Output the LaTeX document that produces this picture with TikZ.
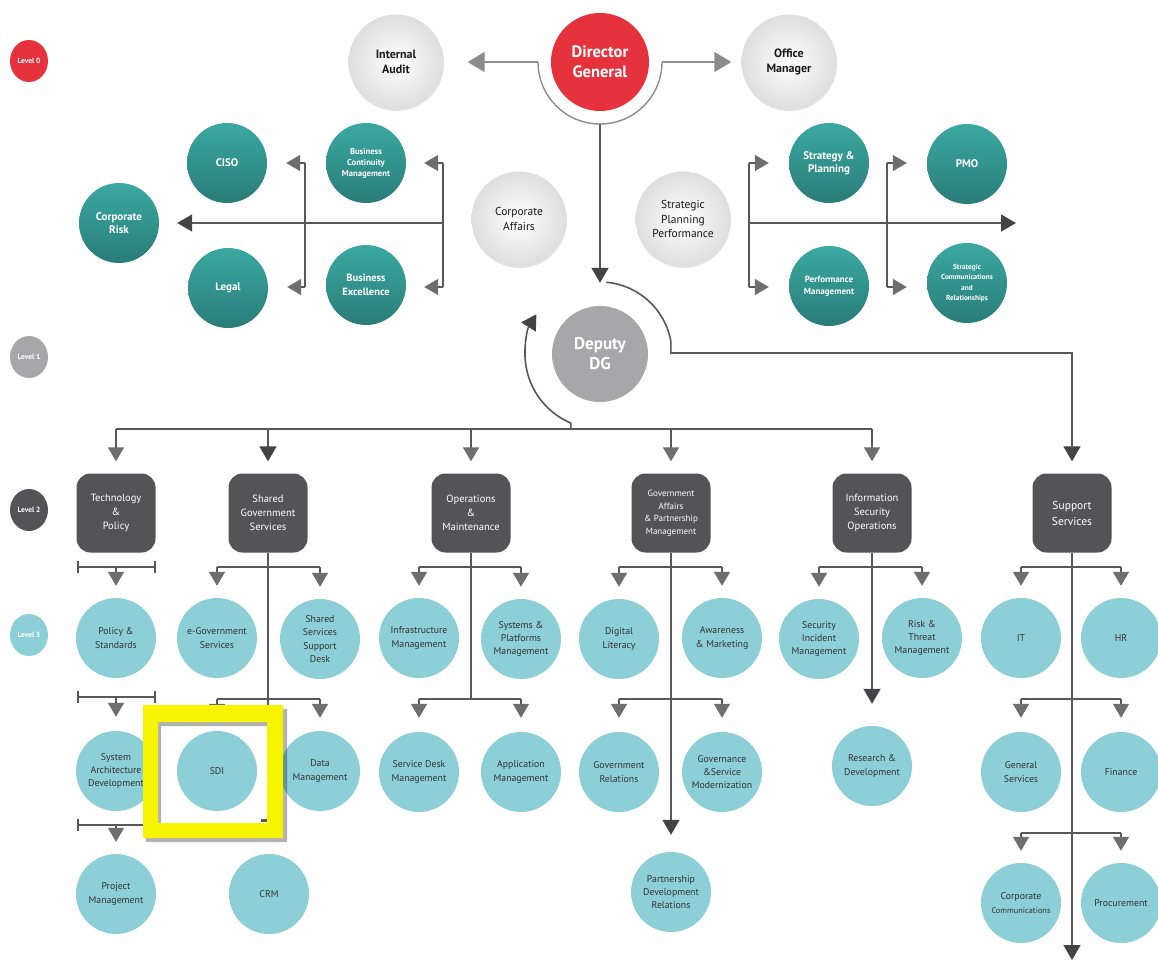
\documentclass[tikz,border=0pt]{standalone}
\usepackage{fontspec}
\setmainfont{PT Sans}
\usetikzlibrary{arrows.meta,shadows,calc,shapes.geometric}
\pgfdeclarelayer{background}
\pgfsetlayers{background,main}
\definecolor{tealTop}{HTML}{3AA9A1}
\definecolor{tealBot}{HTML}{2A7C78}
\definecolor{tealL}{HTML}{8CCFD6}
\definecolor{boxG}{HTML}{545456}
\definecolor{redDG}{HTML}{E5323D}
\definecolor{grayDDG}{HTML}{A7A7A9}
\definecolor{lineG}{HTML}{58585A}
\definecolor{arrG}{HTML}{6E6E70}
\definecolor{arrD}{HTML}{444446}
\definecolor{arcG}{HTML}{8C8C8E}
\definecolor{txtD}{HTML}{333335}
\definecolor{yel}{HTML}{F7F400}
\begin{document}
\begin{tikzpicture}[x=1pt,y=-1pt,
  every node/.style={inner sep=0pt, align=center},
  dteal/.style={circle, minimum size=80pt, top color=tealTop, bottom color=tealBot, text=white, font=\bfseries\fontsize{11}{13.5}\selectfont},
  lteal/.style={circle, minimum size=80pt, fill=tealL, text=txtD, font=\fontsize{9.8}{13.3}\selectfont},
  lgray/.style={circle, minimum size=95pt, inner color=white, outer color=black!13, text=black!90, drop shadow={shadow xshift=0.6pt, shadow yshift=-1.6pt, opacity=0.2}},
  lvbox/.style={rectangle, rounded corners=14pt, minimum width=79pt, minimum height=79pt, fill=boxG, text=white, font=\fontsize{10.5}{14}\selectfont},
  lvlab/.style={ellipse, minimum width=38pt, minimum height=42pt, text=white, font=\bfseries\fontsize{7.5}{9}\selectfont},
  ln/.style={draw=lineG, line width=1.6pt},
  arr/.style={ln, -{Triangle[width=16pt,length=14pt,color=arrG]}},
  arrk/.style={ln, -{Triangle[width=17pt,length=15pt,color=arrD]}},
  arrtop/.style={draw=arcG, line width=1.4pt, -{Triangle[width=20pt,length=17pt,color=arcG]}},
  brk/.style={ln, {Bar[width=12pt]}-{Bar[width=12pt]}}
]
\useasboundingbox (0,0) rectangle (1158,961);

% ---------- level labels
\node[lvlab, fill=redDG] (lv0) at (29,61) {Level 0};
\node[lvlab, fill=grayDDG] (lv1) at (29,357) {Level 1};
\node[lvlab, fill=boxG] (lv2) at (29,510) {Level 2};
\node[lvlab, fill=tealL] (lv3) at (29,635) {Level 3};

% ---------- level 0 / 1
\node[circle, minimum size=98pt, fill=redDG, text=white, font=\bfseries\fontsize{16.5}{20}\selectfont] (dg) at (600,62) {Director\\General};
\node[lgray, font=\bfseries\fontsize{12}{15.5}\selectfont] (ia) at (396,62) {Internal\\Audit};
\node[lgray, font=\bfseries\fontsize{12}{15.5}\selectfont] (omg) at (789,62) {Office\\Manager};
\node[lgray, font=\fontsize{11.5}{14.5}\selectfont] (ca) at (519,219) {Corporate\\Affairs};
\node[lgray, font=\fontsize{11.5}{14.5}\selectfont] (spp) at (683,219) {Strategic\\Planning\\Performance};
\node[circle, minimum size=96pt, fill=grayDDG, text=white, font=\bfseries\fontsize{17}{20}\selectfont] (ddg) at (600,354) {Deputy\\DG};

% left cluster
\node[dteal] (ciso) at (227,163) {CISO};
\node[dteal, font=\bfseries\fontsize{8.6}{11}\selectfont] (bcm) at (366,163) {Business\\Continuity\\Management};
\node[dteal] (crisk) at (119,223) {Corporate\\Risk};
\node[dteal] (legal) at (228,288) {Legal};
\node[dteal, font=\bfseries\fontsize{10.5}{14}\selectfont] (bex) at (366,285) {Business\\Excellence};
% right cluster
\node[dteal] (sp) at (829,163) {Strategy \&\\Planning};
\node[dteal] (pmo) at (967,164) {PMO};
\node[dteal, font=\bfseries\fontsize{9}{12}\selectfont] (pm) at (829,286) {Performance\\Management};
\node[dteal, font=\bfseries\fontsize{7.3}{10.5}\selectfont] (scr) at (967,283) {Strategic\\Communications\\and\\Relationships};

% ---------- level 2
\node[lvbox] (tp) at (116,513) {Technology\\\&\\Policy};
\node[lvbox] (sgs) at (268,513) {Shared\\Government\\Services};
\node[lvbox] (omn) at (471,513) {Operations\\\&\\Maintenance};
\node[lvbox, font=\fontsize{9}{12.5}\selectfont] (ga) at (671,513) {Government\\Affairs\\\& Partnership\\Management};
\node[lvbox] (iso) at (872,513) {Information\\Security\\Operations};
\node[lvbox, font=\fontsize{11.5}{16}\selectfont] (ss) at (1072,513) {Support\\Services};

% ---------- level 3
\node[lteal] (ps) at (116,638) {Policy \&\\Standards};
\node[lteal] (sad) at (116,771) {System\\Architecture\\Development};
\node[lteal] (pjm) at (116,894) {Project\\Management};
\node[lteal] (egov) at (217,638) {e-Government\\Services};
\node[lteal] (sssd) at (320,639) {Shared\\Services\\Support\\Desk};
\node[lteal] (dm) at (320,771) {Data\\Management};
\node[lteal] (crm) at (269,894) {CRM};
\node[lteal] (im) at (419,638) {Infrastructure\\Management};
\node[lteal] (spm) at (521,639) {Systems \&\\Platforms\\Management};
\node[lteal] (sdm) at (419,772) {Service Desk\\Management};
\node[lteal] (am) at (521,772) {Application\\Management};
\node[lteal] (dl) at (619,639) {Digital\\Literacy};
\node[lteal] (awm) at (722,638) {Awareness\\\& Marketing};
\node[lteal] (gr) at (619,772) {Government\\Relations};
\node[lteal] (gsm) at (722,772) {Governance\\\&Service\\Modernization};
\node[lteal] (pdr) at (671,892) {Partnership\\Development\\Relations};
\node[lteal] (sim) at (819,639) {Security\\Incident\\Management};
\node[lteal] (rtm) at (922,638) {Risk \&\\Threat\\Management};
\node[lteal] (rd) at (872,766) {Research \&\\Development};
\node[lteal] (it) at (1021,638) {IT};
\node[lteal] (hr) at (1121,638) {HR};
\node[lteal] (gs) at (1021,772) {General\\Services};
\node[lteal] (fin) at (1121,772) {Finance};
\node[lteal] (cc) at (1021,903) {Corporate\\{\fontsize{8.3}{10}\selectfont Communications}};
\node[lteal] (proc) at (1121,903) {Procurement};

% ---------- coordinates
\coordinate (dgL) at (538,62);
\coordinate (dgR) at (662,62);
\coordinate (dgB) at (600,124);
\coordinate (la0) at (443,223); \coordinate (la1) at (443,163); \coordinate (la2) at (443,287);
\coordinate (lb1) at (305,163); \coordinate (lb2) at (305,287);
\coordinate (ra0) at (749,223); \coordinate (ra1) at (749,163); \coordinate (ra2) at (749,287);
\coordinate (rb1) at (887,163); \coordinate (rb2) at (887,287);
\coordinate (raE) at (1016,223);
\coordinate (kr) at (1072,353);
\coordinate (b0) at (116,429); \coordinate (b5) at (872,429); \coordinate (bj) at (571,429);
\coordinate (bx1) at (268,429); \coordinate (bx2) at (471,429); \coordinate (bx3) at (671,429);
\coordinate (t1a) at (77,567); \coordinate (t1b) at (156,567); \coordinate (t1m) at (116,567);
\coordinate (t2a) at (77,697); \coordinate (t2b) at (156,697); \coordinate (t2m) at (116,697);
\coordinate (t3a) at (77,825); \coordinate (t3b) at (156,825); \coordinate (t3m) at (116,825);
\coordinate (sEnd) at (268,712);
\coordinate (s1a) at (217,567); \coordinate (s1b) at (320,567);
\coordinate (s2a) at (217,699); \coordinate (s2b) at (320,699);
\coordinate (oEnd) at (471,699);
\coordinate (o1a) at (419,567); \coordinate (o1b) at (521,567);
\coordinate (o2a) at (419,699); \coordinate (o2b) at (521,699);
\coordinate (g1a) at (619,567); \coordinate (g1b) at (722,567);
\coordinate (g2a) at (619,699); \coordinate (g2b) at (722,699);
\coordinate (i1a) at (819,567); \coordinate (i1b) at (922,567);
\coordinate (x1a) at (1021,567); \coordinate (x1b) at (1121,567);
\coordinate (x2a) at (1021,699); \coordinate (x2b) at (1121,699);
\coordinate (x3a) at (1021,833); \coordinate (x3b) at (1121,833);
\coordinate (ssEnd) at (1072,961);

\begin{pgfonlayer}{background}
\fill[white] (0,0) rectangle (1158,961);
% DG arc and side arrows
\draw[draw=arcG, line width=1.4pt] (dgL) arc[start angle=180, end angle=0, radius=62];
\draw[arrtop, shorten >=24pt] (dgL) -- (ia);
\draw[arrtop, shorten >=10pt] (dgR) -- (omg);
\draw[arrk, line width=1.8pt, shorten >=23pt] (dgB) -- (ddg);
% left cluster
\draw[ln] (la1) -- (la2);
\draw[ln] (lb1) -- (lb2);
\draw[arrk, shorten >=18pt] (la0) -- (crisk);
\draw[arr, shorten >=18pt] (la1) -- (bcm.east |- la1);
\draw[arr, shorten >=18pt] (la2) -- (bex.east |- la2);
\draw[arr, shorten >=19pt] (lb1) -- (ciso.east |- lb1);
\draw[arr, shorten >=19pt] (lb2) -- (legal.east |- lb2);
% right cluster
\draw[ln] (ra1) -- (ra2);
\draw[ln] (rb1) -- (rb2);
\draw[arrk] (ra0) -- (raE);
\draw[arr, shorten >=20pt] (ra1) -- (sp.west |- ra1);
\draw[arr, shorten >=20pt] (ra2) -- (pm.west |- ra2);
\draw[arr, shorten >=20pt] (rb1) -- (pmo.west |- rb1);
\draw[arr, shorten >=20pt] (rb2) -- (scr.west |- rb2);
% deputy DG arcs
\draw[arrk] (bj) -- ($(ddg.center)+(113:75)$) arc[start angle=113, end angle=212, radius=75];
\draw[arrk, shorten >=12pt] ($(ddg.center)+(-85:72)$) arc[start angle=-85, end angle=-10, radius=72] |- (kr) -- (ss);
% level 2 bus
\draw[ln] (b0) -- (b5);
\draw[arr, shorten >=12pt] (b0) -- (tp);
\draw[arrk, shorten >=12pt] (bx1) -- (sgs);
\draw[arr, shorten >=12pt] (bx2) -- (omn);
\draw[arr, shorten >=12pt] (bx3) -- (ga);
\draw[arr, shorten >=12pt] (b5) -- (iso);
% technology & policy
\draw[brk] (t1a) -- (t1b);
\draw[arr, shorten >=12pt] (t1m) -- (ps);
\draw[brk] (t2a) -- (t2b);
\draw[arr, shorten >=14pt] (t2m) -- (sad);
\draw[brk] (t3a) -- (t3b);
\draw[arr, shorten >=12pt] (t3m) -- (pjm);
% shared government services
\draw[ln] (sgs.south) -- (sEnd);
\draw[ln] (s1a) -- (s1b);
\draw[arr, shorten >=12pt] (s1a) -- (egov);
\draw[arr, shorten >=12pt] (s1b) -- (sssd);
\draw[ln] (s2a) -- (s2b);
\draw[arr, shorten >=13pt] (s2b) -- (dm);
% operations & maintenance
\draw[ln] (omn.south) -- (oEnd);
\draw[ln] (o1a) -- (o1b);
\draw[arr, shorten >=12pt] (o1a) -- (im);
\draw[arr, shorten >=12pt] (o1b) -- (spm);
\draw[ln] (o2a) -- (o2b);
\draw[arr, shorten >=14pt] (o2a) -- (sdm);
\draw[arr, shorten >=14pt] (o2b) -- (am);
% government affairs
\draw[arrk, shorten >=17pt] (ga.south) -- (pdr);
\draw[ln] (g1a) -- (g1b);
\draw[arr, shorten >=12pt] (g1a) -- (dl);
\draw[arr, shorten >=12pt] (g1b) -- (awm);
\draw[ln] (g2a) -- (g2b);
\draw[arr, shorten >=14pt] (g2a) -- (gr);
\draw[arr, shorten >=14pt] (g2b) -- (gsm);
% information security
\draw[arrk, shorten >=22pt] (iso.south) -- (rd);
\draw[ln] (i1a) -- (i1b);
\draw[arr, shorten >=12pt] (i1a) -- (sim);
\draw[arr, shorten >=12pt] (i1b) -- (rtm);
% support services
\draw[arrk, shorten >=1pt] (ss.south) -- (ssEnd);
\draw[ln] (x1a) -- (x1b);
\draw[arr, shorten >=12pt] (x1a) -- (it);
\draw[arr, shorten >=12pt] (x1b) -- (hr);
\draw[ln] (x2a) -- (x2b);
\draw[arr, shorten >=14pt] (x2a) -- (gs);
\draw[arr, shorten >=14pt] (x2b) -- (fin);
\draw[ln] (x3a) -- (x3b);
\draw[arr, shorten >=12pt] (x3a) -- (cc);
\draw[arr, shorten >=12pt] (x3b) -- (proc);
\end{pgfonlayer}

% ---------- highlight frame
\fill[white] (158,722) rectangle (267,823);
\fill[black, opacity=0.3, even odd rule] (146,709) rectangle (287,842) (161,726) rectangle (270,827);
\fill[yel, even odd rule] (143,705) rectangle (283,838) (158,722) rectangle (267,823);
\fill[lineG] (261,819) rectangle (267,822);
\node[lteal] (sdi) at (217,771) {SDI};
\begin{pgfonlayer}{background}
\draw[arr, shorten >=13pt] (s2a) -- (sdi);
\end{pgfonlayer}
\end{tikzpicture}
\end{document}
